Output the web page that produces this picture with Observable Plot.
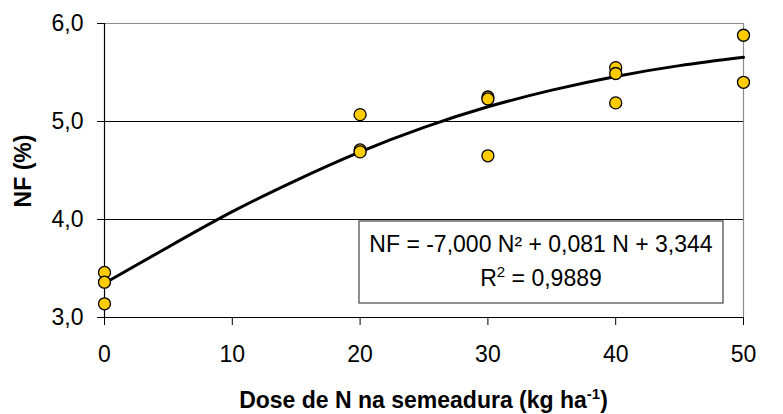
<!DOCTYPE html>
<html>
<head>
<meta charset="utf-8">
<script src="https://cdn.jsdelivr.net/npm/d3@7"></script>
<script src="https://cdn.jsdelivr.net/npm/@observablehq/plot@0.6"></script>
<style>
  html, body { margin: 0; padding: 0; background: #fff; }
  #chart svg { display: block; }
</style>
</head>
<body>
<div id="chart"></div>
<script>
// Observed data (dose of N, NF %)
const doses = [0, 0, 0, 20, 20, 20, 30, 30, 30, 40, 40, 40, 50, 50];
const nfValues = [3.46, 3.36, 3.14, 5.07, 4.71, 4.69, 5.25, 5.23, 4.65, 5.55, 5.49, 5.19, 5.88, 5.40];

// Fitted curve
const curveX = [0, 5, 10, 15, 20, 25, 30, 35, 40, 45, 50];
const curveY = [3.35, 3.72, 4.08, 4.40, 4.69, 4.94, 5.15, 5.32, 5.46, 5.57, 5.655];

// Axis ticks and texts
const xTicks = [0, 10, 20, 30, 40, 50];
const yTicks = [3, 4, 5, 6];
const gridY = [4, 5];
const yTitle = "NF (%)";
const xTitle = "Dose de N na semeadura (kg ha";
const xTitleSup = "-1";
const eqLine1 = "NF = -7,000 N² + 0,081 N + 3,344";
const eqLine2a = "R";
const eqLine2sup = "2";
const eqLine2b = " = 0,9889";

const points = doses.map((d, i) => ({x: d, y: nfValues[i]}));
const curve = curveX.map((d, i) => ({x: d, y: curveY[i]}));

const W = 783, H = 414;
const mL = 104, mR = 40, mT = 23, mB = 97;
const font = "Liberation Sans, Arial, Helvetica, sans-serif";
const fs = 23;

const plot = Plot.plot({
  width: W,
  height: H,
  marginLeft: mL,
  marginRight: mR,
  marginTop: mT,
  marginBottom: mB,
  style: {fontFamily: font, fontSize: fs + "px", color: "#000", background: "#fff", overflow: "visible"},
  x: {domain: [0, 50]},
  y: {domain: [3, 6]},
  marks: [
    Plot.ruleY(gridY, {stroke: "#000", strokeWidth: 1}),
    Plot.ruleY([6], {stroke: "#8c8c8c", strokeWidth: 1.2}),
    Plot.ruleX([50], {stroke: "#8c8c8c", strokeWidth: 1.2}),
    Plot.ruleX([0], {stroke: "#000", strokeWidth: 1.2}),
    Plot.ruleY([3], {stroke: "#000", strokeWidth: 1.2}),
    Plot.axisY({ticks: yTicks, tickFormat: d => d.toFixed(1).replace(".", ","), tickSize: 7, tickPadding: 14, label: null, fontSize: fs, stroke: "#000"}),
    Plot.axisX({ticks: xTicks, tickFormat: d => String(d), tickSize: 8, tickPadding: 20, label: null, fontSize: fs, stroke: "#000"}),
    Plot.line(curve, {x: "x", y: "y", curve: "natural", stroke: "#000", strokeWidth: 3}),
    Plot.dot(points, {x: "x", y: "y", r: 6, fill: "#FFCC00", stroke: "#000", strokeWidth: 1.3})
  ]
});

document.getElementById("chart").appendChild(plot);

const svg = d3.select(plot);

// Y axis title
svg.append("text")
  .attr("transform", `translate(31,171) rotate(-90)`)
  .attr("text-anchor", "middle")
  .attr("font-family", font)
  .attr("font-weight", "bold")
  .attr("font-size", fs)
  .text(yTitle);

// X axis title with superscript
const xt = svg.append("text")
  .attr("x", (mL + W - mR) / 2)
  .attr("y", 408)
  .attr("text-anchor", "middle")
  .attr("font-family", font)
  .attr("font-weight", "bold")
  .attr("font-size", fs);
xt.append("tspan").text(xTitle);
xt.append("tspan").attr("font-size", 15).attr("dy", -9).text(xTitleSup);
xt.append("tspan").attr("dy", 9).text(")");

// Equation box
const bx = 359, by = 221, bw = 364, bh = 82;
svg.append("rect")
  .attr("x", bx).attr("y", by).attr("width", bw).attr("height", bh)
  .attr("fill", "#fff").attr("stroke", "#444").attr("stroke-width", 1.2);
svg.append("text")
  .attr("x", bx + bw / 2).attr("y", 252)
  .attr("text-anchor", "middle")
  .attr("font-family", font).attr("font-size", fs)
  .text(eqLine1);
const r2 = svg.append("text")
  .attr("x", bx + bw / 2).attr("y", 286)
  .attr("text-anchor", "middle")
  .attr("font-family", font).attr("font-size", fs);
r2.append("tspan").text(eqLine2a);
r2.append("tspan").attr("font-size", 15).attr("dy", -9).text(eqLine2sup);
r2.append("tspan").attr("dy", 9).text(eqLine2b);
</script>
</body>
</html>
